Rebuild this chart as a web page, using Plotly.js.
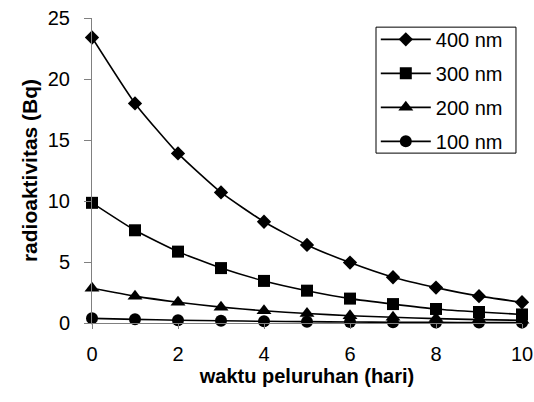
<!DOCTYPE html>
<html>
<head>
<meta charset="utf-8">
<script src="https://cdn.plot.ly/plotly-3.0.1.min.js"></script>
<style>html,body{margin:0;padding:0;background:#fff;}#chart{width:534px;height:402px;}</style>
</head>
<body>
<div id="chart"></div>
<script>
var days = [0, 1, 2, 3, 4, 5, 6, 7, 8, 9, 10];
var seriesNames = ["400 nm", "300 nm", "200 nm", "100 nm"];
var act400 = [23.4, 18.0, 13.9, 10.7, 8.3, 6.4, 4.95, 3.75, 2.9, 2.2, 1.7];
var act300 = [9.85, 7.6, 5.85, 4.5, 3.45, 2.65, 2.0, 1.55, 1.15, 0.9, 0.7];
var act200 = [2.85, 2.2, 1.7, 1.3, 1.0, 0.78, 0.6, 0.47, 0.36, 0.28, 0.22];
var act100 = [0.38, 0.3, 0.23, 0.18, 0.14, 0.11, 0.08, 0.065, 0.05, 0.04, 0.03];
var xTicks = [0, 2, 4, 6, 8, 10];
var yTicks = [0, 5, 10, 15, 20, 25];

var symbols = ["diamond", "square", "triangle-up", "circle"];
var sizes = [11, 12, 13, 12];
var values = [act400, act300, act200, act100];

var data = values.map(function (v, i) {
  return {
    x: days, y: v, name: seriesNames[i], legendgroup: "g" + i,
    type: "scatter", mode: "lines+markers",
    line: {color: "#000", width: 1.6, shape: "spline", smoothing: 0.5},
    marker: {symbol: symbols[i], size: sizes[i], color: "#000"},
    cliponaxis: false
  };
});

var font = "Liberation Sans, Arial, sans-serif";
var layout = {
  width: 534, height: 402,
  margin: {l: 92, r: 12, t: 18, b: 79},
  paper_bgcolor: "#fff", plot_bgcolor: "#fff",
  font: {family: font, color: "#000", size: 20},
  showlegend: true,
  legend: {
    x: 0.66, y: 0.994, xanchor: "left", yanchor: "top",
    borderwidth: 0, bgcolor: "rgba(0,0,0,0)",
    font: {family: font, size: 20, color: "#000"},
    itemwidth: 50, traceorder: "grouped", tracegroupgap: 5
  },
  shapes: [{
    type: "rect", xref: "paper", yref: "paper",
    x0: 0.6605, x1: 0.986, y0: 0.557, y1: 0.970,
    line: {color: "#000", width: 1}, fillcolor: "rgba(0,0,0,0)", layer: "below"
  }],
  xaxis: {
    range: [0, 10], tickvals: xTicks, ticktext: xTicks.map(String),
    showgrid: false, zeroline: false, showline: true, linecolor: "#808080", linewidth: 1,
    ticks: "outside", ticklen: 5, tickcolor: "#808080", ticklabelstandoff: 8,
    tickfont: {family: font, size: 20, color: "#000"},
    title: {text: "<b>waktu peluruhan (hari)</b>", font: {family: font, size: 20, color: "#000"}, standoff: 4}
  },
  yaxis: {
    range: [0, 25], tickvals: yTicks, ticktext: yTicks.map(function (v) { return v + "\u2002"; }),
    showgrid: false, zeroline: false, showline: true, linecolor: "#808080", linewidth: 1,
    ticks: "outside", ticklen: 7, tickcolor: "#808080",
    tickfont: {family: font, size: 20, color: "#000"},
    title: {text: "<b>radioaktivitas (Bq)</b>", font: {family: font, size: 21, color: "#000"}, standoff: 4}
  }
};

Plotly.newPlot("chart", data, layout, {displayModeBar: false, staticPlot: true});
</script>
</body>
</html>
